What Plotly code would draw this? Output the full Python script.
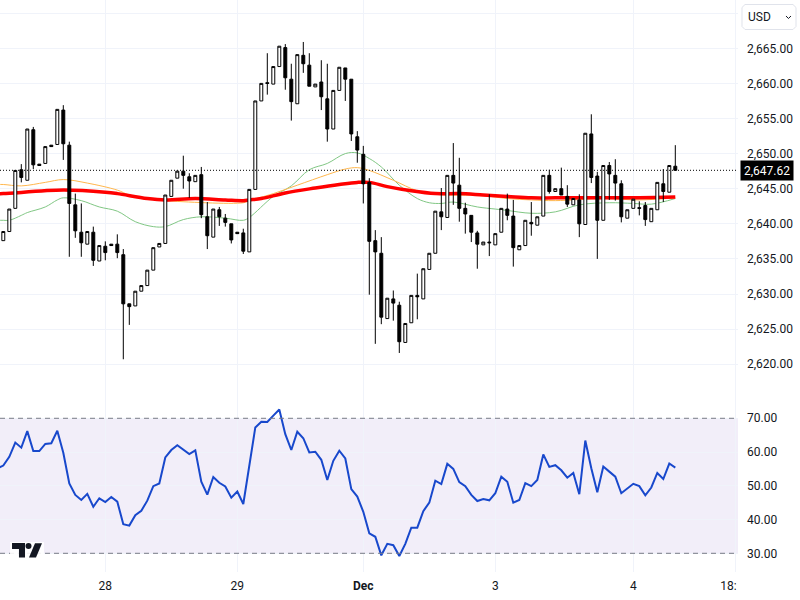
import plotly.graph_objects as go
from plotly.subplots import make_subplots

# candles, one per bar
opens = [2637.6, 2638.9, 2642.2, 2647.7, 2646.2, 2653.4, 2648.5, 2648.6, 2651.2, 2651.3,
         2656.2, 2651.2, 2642.7, 2638.8, 2637.1, 2638.8, 2634.7, 2636.8, 2637.1, 2637.1,
         2635.6, 2628.6, 2628.3, 2630.4, 2631.2, 2633.4, 2636.7, 2637.2, 2643.9, 2646.5,
         2647.5, 2646.7, 2646.0, 2647.0, 2641.0, 2638.1, 2642.0, 2640.8, 2640.0, 2638.8,
         2638.7, 2636.0, 2644.9, 2657.5, 2660.1, 2659.9, 2662.4, 2665.1, 2660.6, 2657.1,
         2664.0, 2662.6, 2659.5, 2660.2, 2657.8, 2653.5, 2659.0, 2662.2, 2660.6, 2652.4,
         2649.9, 2645.9, 2637.6, 2635.8, 2626.5, 2629.3, 2628.4, 2623.1, 2625.9, 2629.8,
         2629.3, 2633.5, 2635.8, 2641.7, 2640.9, 2646.9, 2645.5, 2642.2, 2641.2, 2638.7,
         2637.0, 2637.4, 2637.0, 2638.8, 2642.1, 2641.1, 2636.3, 2636.9, 2640.2, 2639.8,
         2641.1, 2646.9, 2644.6, 2645.0, 2643.9, 2642.7, 2643.4, 2639.9, 2652.8, 2646.8,
         2640.5, 2648.3, 2646.9, 2645.7, 2640.8, 2642.2, 2642.3, 2642.6, 2640.3, 2642.0,
         2645.7, 2644.5, 2648.2]
highs = [2638.9, 2642.1, 2647.6, 2648.5, 2653.5, 2653.8, 2648.5, 2651.0, 2651.2, 2656.3,
         2656.9, 2651.7, 2644.3, 2642.9, 2638.9, 2639.6, 2636.9, 2637.5, 2637.1, 2638.5,
         2636.4, 2628.6, 2630.4, 2631.2, 2633.4, 2636.6, 2637.2, 2644.1, 2646.2, 2647.5,
         2649.7, 2647.2, 2646.9, 2648.1, 2643.1, 2642.1, 2642.4, 2641.4, 2640.0, 2638.8,
         2639.3, 2644.9, 2657.5, 2660.0, 2664.3, 2662.4, 2665.3, 2665.6, 2662.8, 2664.1,
         2665.9, 2664.3, 2659.9, 2663.3, 2662.8, 2659.0, 2662.3, 2662.2, 2660.6, 2653.2,
         2651.1, 2646.5, 2639.1, 2638.1, 2629.4, 2630.5, 2628.9, 2625.8, 2629.8, 2632.9,
         2633.6, 2635.8, 2641.8, 2645.1, 2646.9, 2651.5, 2649.4, 2643.0, 2641.2, 2639.0,
         2637.4, 2644.2, 2638.6, 2642.2, 2644.3, 2643.4, 2636.9, 2640.5, 2643.1, 2641.0,
         2646.9, 2647.7, 2645.0, 2648.0, 2645.5, 2643.6, 2644.2, 2652.9, 2655.6, 2647.4,
         2648.3, 2648.8, 2649.2, 2646.2, 2642.0, 2643.5, 2643.2, 2643.1, 2642.2, 2645.9,
         2647.8, 2648.3, 2651.2]
lows = [2637.6, 2638.9, 2642.2, 2645.9, 2646.2, 2647.8, 2648.3, 2648.6, 2651.0, 2651.3,
        2649.1, 2635.3, 2638.0, 2635.3, 2637.1, 2634.0, 2634.7, 2634.8, 2636.9, 2635.1,
        2620.7, 2625.6, 2628.3, 2630.4, 2631.2, 2633.4, 2636.7, 2637.2, 2643.9, 2646.5,
        2645.0, 2643.7, 2646.0, 2640.8, 2636.4, 2638.1, 2639.7, 2639.6, 2637.2, 2638.6,
        2635.7, 2636.0, 2644.9, 2657.5, 2658.4, 2659.9, 2662.4, 2659.1, 2654.7, 2657.1,
        2661.5, 2659.6, 2659.5, 2656.2, 2651.7, 2653.5, 2659.0, 2657.5, 2651.8, 2648.7,
        2642.9, 2629.9, 2622.9, 2625.7, 2626.5, 2626.2, 2621.6, 2623.1, 2625.9, 2626.4,
        2629.3, 2633.5, 2635.8, 2639.1, 2640.9, 2642.7, 2640.3, 2638.6, 2637.4, 2633.6,
        2637.0, 2635.4, 2637.0, 2638.8, 2640.5, 2633.9, 2636.3, 2636.9, 2638.3, 2639.8,
        2641.1, 2644.3, 2644.6, 2644.1, 2642.4, 2642.7, 2638.1, 2639.9, 2645.8, 2635.0,
        2640.5, 2643.4, 2643.3, 2640.2, 2640.8, 2642.2, 2641.2, 2639.7, 2640.3, 2642.0,
        2643.1, 2644.5, 2647.6]
closes = [2638.9, 2642.1, 2647.6, 2646.6, 2653.5, 2648.4, 2648.3, 2651.0, 2651.0, 2656.3,
          2651.4, 2642.9, 2639.0, 2637.3, 2638.9, 2634.8, 2636.9, 2635.9, 2636.9, 2635.9,
          2628.6, 2628.2, 2630.4, 2631.2, 2633.4, 2636.6, 2637.2, 2644.1, 2646.2, 2647.5,
          2646.9, 2646.1, 2646.9, 2641.3, 2638.3, 2642.1, 2641.0, 2640.2, 2637.7, 2638.6,
          2636.1, 2644.9, 2657.5, 2660.0, 2660.0, 2662.4, 2665.3, 2660.8, 2657.4, 2664.1,
          2662.8, 2659.6, 2659.9, 2658.1, 2653.5, 2659.0, 2662.3, 2660.6, 2652.8, 2650.5,
          2645.7, 2637.5, 2636.0, 2626.7, 2629.4, 2628.7, 2623.2, 2625.8, 2629.8, 2629.6,
          2633.6, 2635.8, 2641.8, 2641.0, 2646.9, 2645.8, 2642.2, 2641.4, 2638.8, 2637.1,
          2637.4, 2637.3, 2638.6, 2642.2, 2641.2, 2636.6, 2636.9, 2640.5, 2640.0, 2641.0,
          2646.9, 2644.6, 2645.0, 2644.1, 2642.8, 2643.6, 2640.0, 2652.9, 2646.6, 2640.5,
          2648.3, 2647.1, 2645.8, 2641.0, 2642.0, 2643.5, 2642.2, 2640.6, 2642.2, 2645.9,
          2644.6, 2648.3, 2647.62]

# moving averages, read at the bars where they bend
red_idx = [-1, 0, 10, 17, 19, 24, 27, 32, 37, 40, 41, 43, 47, 52, 56, 59, 61, 64, 68, 72, 76, 80, 84, 88, 92, 100, 106, 112]
red_ma = [2644.3, 2644.3, 2644.8, 2644.5, 2644.3, 2643.6, 2643.4, 2643.6, 2643.4, 2643.3, 2643.4, 2643.6, 2644.4, 2645.1,
          2645.6, 2645.9, 2645.9, 2645.3, 2644.7, 2644.3, 2644.3, 2644.1, 2643.9, 2643.7, 2643.7, 2643.7, 2643.7, 2643.8]
orange_idx = [-1, 0, 3, 7, 10, 14, 19, 21, 24, 27, 40, 41, 45, 49, 54, 57, 59, 61, 65, 69, 72, 80, 84, 88, 92, 100, 106, 112]
orange_ma = [2645.6, 2645.6, 2645.4, 2645.9, 2646.3, 2645.8, 2644.8, 2644.1, 2643.6, 2643.3, 2643.0, 2643.3, 2644.3, 2645.5,
             2647.0, 2647.8, 2648.0, 2647.6, 2646.2, 2644.7, 2644.2, 2644.0, 2643.6, 2643.4, 2643.3, 2643.6, 2643.4, 2643.7]
green_idx = [-1, 0, 1, 3, 4, 7, 9, 10, 13, 16, 19, 22, 25, 27, 30, 33, 37, 40, 41, 45, 48, 51, 54, 57, 59, 61, 63, 66,
             69, 71, 73, 75, 79, 82, 84, 88, 92, 96, 101, 105, 108, 112]
green_ma = [2640.5, 2640.5, 2640.5, 2641.2, 2641.6, 2642.4, 2643.4, 2643.7, 2643.3, 2642.4, 2641.8, 2640.3, 2639.6, 2639.6,
            2640.6, 2641.0, 2640.8, 2640.5, 2640.9, 2643.9, 2645.4, 2647.7, 2648.6, 2650.0, 2650.1, 2649.3, 2648.1,
            2645.5, 2643.6, 2643.0, 2642.9, 2643.1, 2642.4, 2642.1, 2641.9, 2641.5, 2641.7, 2642.7, 2643.0, 2642.9,
            2642.8, 2643.6]

# first value is the bar just off the left edge
rsi = [55.2, 56.0, 58.6, 62.8, 61.3, 66.2, 60.3, 60.3, 62.4, 62.6, 66.3, 59.8, 50.7, 47.3, 45.8, 47.6, 43.8, 46.3, 45.2,
       46.7, 45.3, 38.6, 38.2, 41.3, 42.6, 45.6, 49.9, 50.7, 58.4, 60.6, 62.0, 60.8, 59.4, 60.5, 51.2, 47.4, 52.6,
       50.9, 49.8, 46.5, 48.3, 44.6, 56.7, 67.3, 69.0, 68.9, 70.8, 72.6, 65.3, 60.6, 66.0, 64.1, 59.9, 60.1, 57.7,
       51.7, 57.4, 60.4, 58.1, 49.0, 46.8, 42.3, 35.9, 34.9, 29.4, 32.8, 32.4, 29.2, 32.8, 37.6, 37.6, 42.5, 45.0,
       51.5, 50.5, 56.5, 55.0, 51.1, 49.9, 47.3, 45.5, 46.1, 45.7, 47.8, 52.7, 51.2, 45.0, 45.8, 50.8, 49.9, 51.7,
       59.3, 55.6, 56.1, 54.6, 52.4, 53.8, 47.5, 63.4, 55.2, 48.1, 55.7, 54.2, 52.7, 47.8, 49.3, 50.6, 49.9, 47.2,
       49.5, 53.8, 52.0, 56.6, 55.4]

time_ticks = [17, 39, 60, 82, 105, 122]
time_labels = ["28", "29", "<b>Dec</b>", "3", "4", "18:00"]
price_ticks = [2620, 2625, 2630, 2635, 2640, 2645, 2650, 2655, 2660, 2665, 2670]
price_labels = ["2,620.00", "2,625.00", "2,630.00", "2,635.00", "2,640.00", "2,645.00", "2,650.00",
                "2,655.00", "2,660.00", "2,665.00", ""]
rsi_ticks = [30, 40, 50, 60, 70]
last_price = 2647.62

FONT = "Roboto, Noto Sans, sans-serif"
INK = "#131722"
GRID = "#f0f3fa"
PLOT_W, PLOT_H = 738, 572


def px(x, y):
    # page pixels to paper coordinates of the plot area
    return x / PLOT_W, 1 - y / PLOT_H


def poly(points, color, width=0, line="rgba(0,0,0,0)"):
    # closed shape given in page pixels
    p = [px(*pt) for pt in points]
    path = "M" + " L".join(f"{a:.4f},{b:.4f}" for a, b in p) + " Z"
    return dict(type="path", path=path, xref="paper", yref="paper", fillcolor=color,
                line=dict(color=line, width=width), layer="above")


fig = make_subplots(rows=2, cols=1, shared_xaxes=True, vertical_spacing=0, row_heights=[400, 172])

idx = list(range(len(opens)))
fig.add_trace(go.Scatter(x=green_idx, y=green_ma, mode="lines", line=dict(color="#81c784", width=1, shape="spline"),
                         showlegend=False), row=1, col=1)
fig.add_trace(go.Scatter(x=orange_idx, y=orange_ma, mode="lines", line=dict(color="#ffb74d", width=1, shape="spline"),
                         showlegend=False), row=1, col=1)
fig.add_trace(go.Scatter(x=red_idx, y=red_ma, mode="lines", line=dict(color="#ff0000", width=3.5, shape="spline"),
                         showlegend=False), row=1, col=1)
# zorder keeps the candles over the averages
fig.add_trace(go.Candlestick(
    x=idx, open=opens, high=highs, low=lows, close=closes, whiskerwidth=0, showlegend=False, zorder=1,
    increasing=dict(line=dict(color="#000000", width=1), fillcolor="#ffffff"),
    decreasing=dict(line=dict(color="#000000", width=1), fillcolor="#000000"),
), row=1, col=1)
fig.add_trace(go.Scatter(x=list(range(-1, len(rsi) - 1)), y=rsi, mode="lines", line=dict(color="#1848cc", width=2),
                         showlegend=False), row=2, col=1)

shapes = [
    dict(type="rect", xref="paper", x0=0, x1=1, yref="y2", y0=30, y1=70, fillcolor="rgba(126,87,194,0.1)",
         line=dict(width=0), layer="below"),
    dict(type="line", xref="paper", x0=0, x1=1, yref="y2", y0=70, y1=70, line=dict(color="#787b86", width=1, dash="5px,4px")),
    dict(type="line", xref="paper", x0=0, x1=1, yref="y2", y0=30, y1=30, line=dict(color="#787b86", width=1, dash="5px,4px")),
    dict(type="line", xref="paper", x0=0, x1=1, yref="y", y0=last_price, y1=last_price,
         line=dict(color="#000000", width=1, dash="1px,2px")),
]

# logo in the corner of the lower pane
shapes.append(poly([(10, 542), (44, 542), (44, 558), (10, 558)], "rgba(255,255,255,0.9)"))
shapes.append(poly([(12, 543), (25, 543), (25, 557.5), (19, 557.5), (19, 549), (12, 549)], INK))
shapes.append(poly([(35, 543.3), (42, 543.3), (36, 557.5), (29, 557.5)], INK))
cx0, cy0 = px(25.5, 543)
cx1, cy1 = px(31.5, 549)
shapes.append(dict(type="circle", xref="paper", yref="paper", x0=cx0, x1=cx1, y0=cy0, y1=cy1,
                   fillcolor=INK, line=dict(width=0), layer="above"))

# currency button
shapes.append(poly([(745, 4.5), (793, 4.5), (796, 7.5), (796, 26.5), (793, 29.5), (745, 29.5), (742, 26.5), (742, 7.5)],
                   "#ffffff", 1, "#e0e3eb"))
chev = [px(786, 16), px(788.5, 18.5), px(791, 16)]
shapes.append(dict(type="path", xref="paper", yref="paper", layer="above", line=dict(color=INK, width=1),
                   path="M" + " L".join(f"{a:.4f},{b:.4f}" for a, b in chev)))

annotations = []
ax, ay = px(746, 16.5)
annotations.append(dict(x=ax, y=ay, xref="paper", yref="paper", text="USD", showarrow=False, xanchor="left",
                        yanchor="middle", font=dict(family=FONT, size=12, color=INK)))
# last price tag
ax, ay = px(767, 170.5)
annotations.append(dict(x=ax, y=ay, xref="paper", yref="paper", text="2,647.62", showarrow=False, xanchor="center",
                        yanchor="middle", font=dict(family=FONT, size=12, color="#ffffff"), bgcolor="#000000",
                        borderpad=3, height=13))
# right edge of the time scale cuts its last label
ax, ay = px(769, 586)
annotations.append(dict(x=ax, y=ay, xref="paper", yref="paper", text=" ", showarrow=False, width=62, height=24,
                        xanchor="center", yanchor="middle", bgcolor="#ffffff", font=dict(size=12)))

fig.update_layout(
    width=800, height=600, margin=dict(l=0, r=62, t=0, b=28),
    paper_bgcolor="#ffffff", plot_bgcolor="#ffffff", showlegend=False, hovermode=False,
    font=dict(family=FONT, size=12, color=INK), shapes=shapes, annotations=annotations,
)
for row in (1, 2):
    fig.update_xaxes(range=[-0.55, 122.45], tickmode="array", tickvals=time_ticks, showgrid=True, gridcolor=GRID,
                     gridwidth=1, zeroline=False, showline=False, ticks="", rangeslider_visible=False, row=row, col=1)
fig.update_xaxes(ticktext=time_labels, ticklabelstandoff=5, tickfont=dict(family=FONT, size=12, color=INK), row=2, col=1)
fig.update_xaxes(showticklabels=False, row=1, col=1)
fig.update_yaxes(range=[2614.9, 2671.88], side="right", tickmode="array", tickvals=price_ticks, ticktext=price_labels,
                 gridcolor=GRID, zeroline=False, showline=False, ticks="", ticklabelstandoff=8, row=1, col=1)
fig.update_yaxes(range=[24.46, 75.42], side="right", tickmode="array", tickvals=rsi_ticks, tickformat=".2f",
                 gridcolor=GRID, zeroline=False, showline=False, ticks="", ticklabelstandoff=8, row=2, col=1)

# page margin off so the figure fills the 800x600 window
fig.write_html("out.html", config=dict(displayModeBar=False),
               post_script="document.body.style.margin='0';document.documentElement.style.overflow='hidden';")
